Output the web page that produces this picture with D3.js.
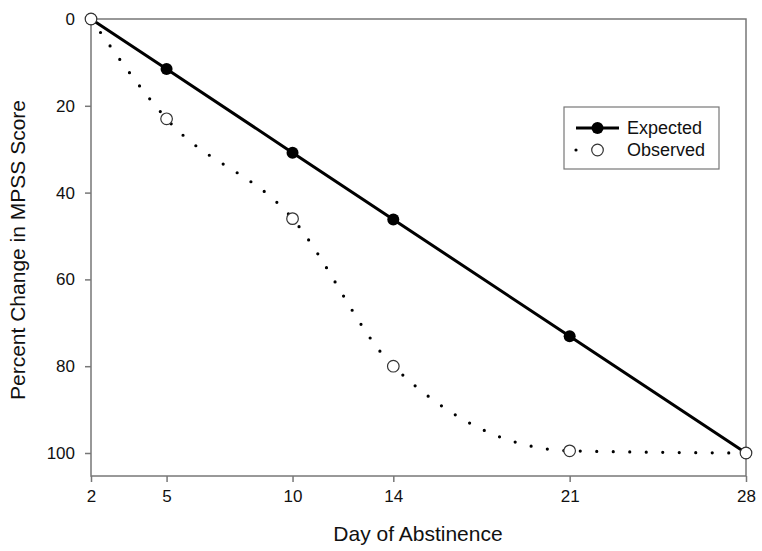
<!DOCTYPE html>
<html>
<head>
<meta charset="utf-8">
<script src="https://cdn.jsdelivr.net/npm/d3@7"></script>
<style>
  body { margin: 0; background: #fff; }
  text { font-family: "Liberation Sans", Arial, sans-serif; fill: #111; }
</style>
</head>
<body>
<div id="chart"></div>
<script>
const days = [2, 5, 10, 14, 21, 28];
const expected = [0, 11.5, 30.8, 46.2, 73.1, 100];
const observed = [0, 23, 46, 80, 99.5, 100];
const xTicks = [2, 5, 10, 14, 21, 28];
const yTicks = [0, 20, 40, 60, 80, 100];

const width = 762, height = 551;
const margin = { top: 19, right: 16, bottom: 75, left: 91 };

const svg = d3.select("#chart").append("svg")
    .attr("width", width)
    .attr("height", height);

const x = d3.scaleLinear().domain([2, 28]).range([margin.left, width - margin.right]);
const y = d3.scaleLinear().domain([0, 105.3]).range([margin.top, height - margin.bottom]);

const axisColor = "#777";

// frame
svg.append("rect")
    .attr("x", margin.left)
    .attr("y", margin.top)
    .attr("width", width - margin.left - margin.right)
    .attr("height", height - margin.top - margin.bottom)
    .attr("fill", "none")
    .attr("stroke", axisColor)
    .attr("stroke-width", 1.5);

const xAxis = svg.append("g")
    .attr("transform", `translate(0,${height - margin.bottom})`)
    .call(d3.axisBottom(x).tickValues(xTicks).tickSize(6).tickPadding(8));

const yAxis = svg.append("g")
    .attr("transform", `translate(${margin.left},0)`)
    .call(d3.axisLeft(y).tickValues(yTicks).tickSize(6).tickPadding(10));

[xAxis, yAxis].forEach(a => {
  a.select(".domain").remove();
  a.selectAll("line").attr("stroke", axisColor).attr("stroke-width", 1.5);
  a.selectAll("text").attr("font-size", 17).attr("fill", "#111")
      .style("font-family", '"Liberation Sans", Arial, sans-serif');
});

// axis titles
svg.append("text")
    .attr("x", 418)
    .attr("y", 541)
    .attr("text-anchor", "middle")
    .attr("font-size", 21)
    .text("Day of Abstinence");

svg.append("text")
    .attr("transform", `translate(25,250) rotate(-90)`)
    .attr("text-anchor", "middle")
    .attr("font-size", 21)
    .text("Percent Change in MPSS Score");

const expData = days.map((d, i) => ({ day: d, v: expected[i] }));
const obsData = days.map((d, i) => ({ day: d, v: observed[i] }));

// expected line
svg.append("path")
    .datum(expData)
    .attr("fill", "none")
    .attr("stroke", "#000")
    .attr("stroke-width", 3)
    .attr("d", d3.line().x(d => x(d.day)).y(d => y(d.v)));

// observed dotted curve
svg.append("path")
    .datum(obsData)
    .attr("fill", "none")
    .attr("stroke", "#000")
    .attr("stroke-width", 3.2)
    .attr("stroke-linecap", "round")
    .attr("stroke-dasharray", "0,16.5")
    .attr("d", d3.line().curve(d3.curveMonotoneX).x(d => x(d.day)).y(d => y(d.v)));

svg.append("g").selectAll("circle")
    .data(expData)
    .join("circle")
    .attr("cx", d => x(d.day))
    .attr("cy", d => y(d.v))
    .attr("r", 6)
    .attr("fill", "#000");

svg.append("g").selectAll("circle")
    .data(obsData)
    .join("circle")
    .attr("cx", d => x(d.day))
    .attr("cy", d => y(d.v))
    .attr("r", 5.8)
    .attr("fill", "#fff")
    .attr("stroke", "#333")
    .attr("stroke-width", 1.2);

// legend
const lg = svg.append("g");
lg.append("rect")
    .attr("x", 564).attr("y", 107)
    .attr("width", 155).attr("height", 62)
    .attr("fill", "#fff")
    .attr("stroke", axisColor)
    .attr("stroke-width", 1.2);

lg.append("line")
    .attr("x1", 576).attr("x2", 619).attr("y1", 128).attr("y2", 128)
    .attr("stroke", "#000").attr("stroke-width", 3);
lg.append("circle").attr("cx", 597.5).attr("cy", 128).attr("r", 6).attr("fill", "#000");
lg.append("text").attr("x", 627).attr("y", 128).attr("dy", "0.36em")
    .attr("font-size", 18).text("Expected");

lg.append("line")
    .attr("x1", 576).attr("x2", 619).attr("y1", 150).attr("y2", 150)
    .attr("stroke", "#000").attr("stroke-width", 3.2)
    .attr("stroke-linecap", "round")
    .attr("stroke-dasharray", "0,21.5");
lg.append("circle").attr("cx", 597.5).attr("cy", 150).attr("r", 5.8)
    .attr("fill", "#fff").attr("stroke", "#333").attr("stroke-width", 1.2);
lg.append("text").attr("x", 627).attr("y", 150).attr("dy", "0.36em")
    .attr("font-size", 18).text("Observed");
</script>
</body>
</html>
